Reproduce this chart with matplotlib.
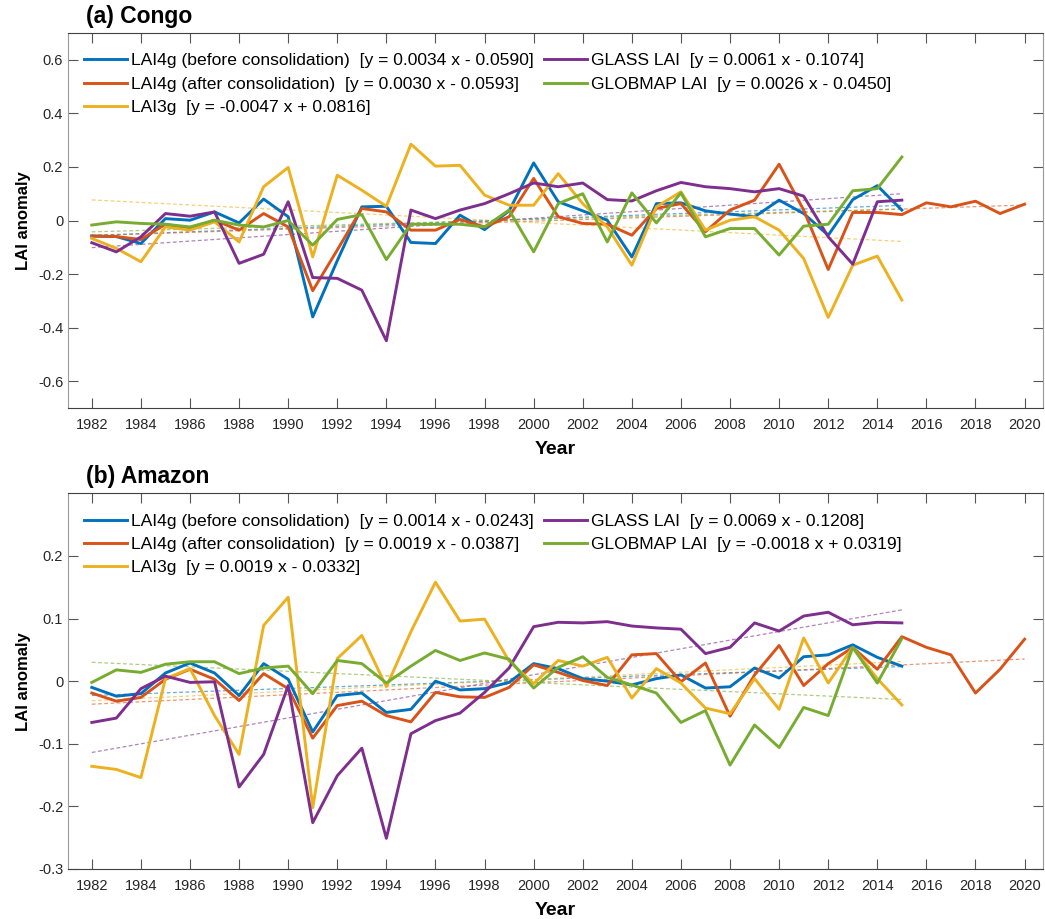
import numpy as np
import matplotlib as mpl
mpl.use('Agg')
import matplotlib.pyplot as plt

plt.rcParams['font.family'] = ['Liberation Sans', 'DejaVu Sans']
plt.rcParams['axes.unicode_minus'] = False

years = np.arange(1982, 2021)
years_short = np.arange(1982, 2016)

names = ['LAI4g (before consolidation)', 'LAI4g (after consolidation)', 'LAI3g',
         'GLASS LAI', 'GLOBMAP LAI']
colors = ['#0072BD', '#D95319', '#EDB120', '#7E2F8E', '#77AC30']

# ---- (a) Congo ----
congo_before = [-0.058, -0.060, -0.086, 0.007, 0.001, 0.032, -0.009, 0.080, 0.014, -0.360,
                -0.150, 0.051, 0.053, -0.082, -0.086, 0.020, -0.034, 0.036, 0.215, 0.070,
                0.036, 0.001, -0.136, 0.063, 0.066, 0.036, 0.024, 0.014, 0.076, 0.026,
                -0.055, 0.078, 0.130, 0.039]
congo_after = [-0.058, -0.060, -0.071, -0.014, -0.030, 0.001, -0.036, 0.026, -0.024, -0.262,
               -0.110, 0.045, 0.032, -0.036, -0.036, 0.004, -0.024, 0.014, 0.157, 0.014,
               -0.011, -0.014, -0.055, 0.045, 0.063, -0.042, 0.039, 0.076, 0.210, 0.039,
               -0.183, 0.030, 0.030, 0.022, 0.066, 0.051, 0.072, 0.026, 0.061]
congo_3g = [-0.067, -0.104, -0.154, -0.024, -0.036, -0.005, -0.080, 0.126, 0.198, -0.136,
            0.169, 0.113, 0.053, 0.285, 0.203, 0.206, 0.095, 0.057, 0.057, 0.175,
            0.063, -0.024, -0.167, 0.051, 0.107, -0.036, 0.001, 0.014, -0.036, -0.142,
            -0.362, -0.167, -0.133, -0.297]
congo_glass = [-0.083, -0.117, -0.061, 0.026, 0.016, 0.032, -0.160, -0.126, 0.070, -0.213,
               -0.216, -0.260, -0.449, 0.039, 0.007, 0.039, 0.063, 0.100, 0.140, 0.126,
               0.140, 0.078, 0.073, 0.111, 0.142, 0.126, 0.119, 0.107, 0.119, 0.091,
               -0.061, -0.163, 0.070, 0.076]
congo_globmap = [-0.017, -0.005, -0.011, -0.014, -0.024, 0.001, -0.017, -0.024, 0.000, -0.092,
                 0.004, 0.022, -0.146, -0.014, -0.014, -0.014, -0.024, 0.039, -0.117, 0.063,
                 0.100, -0.080, 0.103, -0.009, 0.103, -0.061, -0.030, -0.030, -0.129, -0.021,
                 -0.014, 0.111, 0.119, 0.237]
congo_slope = [0.0034, 0.0030, -0.0047, 0.0061, 0.0026]
congo_icpt = [-0.0590, -0.0593, 0.0816, -0.1074, -0.0450]

# ---- (b) Amazon ----
amaz_before = [-0.010, -0.024, -0.020, 0.013, 0.029, 0.013, -0.023, 0.028, 0.003, -0.081,
               -0.023, -0.019, -0.050, -0.045, 0.000, -0.014, -0.012, -0.002, 0.028, 0.020,
               0.004, 0.000, -0.006, 0.004, 0.010, -0.011, -0.009, 0.021, 0.005, 0.039,
               0.042, 0.058, 0.038, 0.024]
amaz_after = [-0.019, -0.032, -0.026, 0.003, 0.019, 0.003, -0.031, 0.012, -0.012, -0.091,
              -0.039, -0.032, -0.055, -0.065, -0.018, -0.025, -0.026, -0.010, 0.026, 0.014,
              0.001, -0.007, 0.042, 0.044, -0.001, 0.029, -0.056, 0.010, 0.057, -0.007,
              0.028, 0.054, 0.019, 0.071, 0.054, 0.042, -0.019, 0.019, 0.067]
amaz_3g = [-0.136, -0.141, -0.154, 0.004, 0.020, -0.055, -0.117, 0.089, 0.134, -0.202,
           0.036, 0.073, -0.009, 0.079, 0.158, 0.096, 0.099, 0.032, -0.004, 0.033,
           0.024, 0.038, -0.027, 0.020, -0.003, -0.043, -0.052, 0.004, -0.045, 0.069,
           -0.003, 0.054, 0.004, -0.038]
amaz_glass = [-0.066, -0.059, -0.012, 0.008, -0.002, -0.001, -0.169, -0.117, -0.007, -0.226,
              -0.151, -0.107, -0.251, -0.084, -0.063, -0.051, -0.018, 0.021, 0.087, 0.094,
              0.093, 0.095, 0.088, 0.085, 0.083, 0.044, 0.054, 0.093, 0.080, 0.104,
              0.110, 0.090, 0.094, 0.093]
amaz_globmap = [-0.002, 0.018, 0.014, 0.027, 0.031, 0.031, 0.012, 0.021, 0.024, -0.020,
                0.033, 0.028, -0.003, 0.024, 0.049, 0.033, 0.045, 0.035, -0.011, 0.022,
                0.039, 0.006, -0.006, -0.019, -0.066, -0.047, -0.134, -0.070, -0.106, -0.042,
                -0.055, 0.054, -0.003, 0.068]
amaz_slope = [0.0014, 0.0019, 0.0019, 0.0069, -0.0018]
amaz_icpt = [-0.0243, -0.0387, -0.0332, -0.1208, 0.0319]

xticks = np.arange(1982, 2021, 2)
yticks_a = [-0.6, -0.4, -0.2, 0, 0.2, 0.4, 0.6]
ytl_a = ['-0.6', '-0.4', '-0.2', '0', '0.2', '0.4', '0.6']
yticks_b = [-0.3, -0.2, -0.1, 0, 0.1, 0.2]
ytl_b = ['-0.3', '-0.2', '-0.1', '0', '0.1', '0.2']


def fmt(v):
    s = '%.4f' % abs(v)
    return ('- ' if v < 0 else '+ ') + s


def panel(ax, series, slopes, icpts, title, ylim, yt, ytl, title_y):
    lines = []
    for i, s in enumerate(series):
        xx = years if len(s) == len(years) else years_short
        ln, = ax.plot(xx, s, color=colors[i], lw=2.1, zorder=3)
        lines.append(ln)
        t = xx - 1981
        ax.plot(xx, slopes[i] * t + icpts[i], color=colors[i], lw=0.9,
                ls=(0, (3, 2)), alpha=0.6, zorder=2)
    labels = []
    for i in range(5):
        sl = ('%.4f' % slopes[i])
        labels.append('%s  [y = %s x %s]' % (names[i], sl, fmt(icpts[i])))
    ax.set_xlim(1981.03, 2020.75)
    ax.set_ylim(*ylim)
    ax.set_xticks(xticks)
    ax.set_yticks(yt)
    ax.set_yticklabels(ytl)
    ax.tick_params(direction='in', length=7, width=0.8, top=True, right=True,
                   labelsize=10.5, colors='#555555', labelcolor='#262626')
    ax.tick_params(axis='x', pad=7)
    for side in ['left', 'right']:
        ax.spines[side].set_color('#999999')
    for side in ['top', 'bottom']:
        ax.spines[side].set_color('#404040')
    ax.set_xlabel('Year', fontsize=14, fontweight='bold', labelpad=7)
    ax.set_ylabel('LAI anomaly', fontsize=12, fontweight='bold', labelpad=5)
    ax.legend(lines, labels, ncol=2, loc='upper left',
              bbox_to_anchor=(0.0165, 0.946), frameon=False, fontsize=12.6,
              handlelength=2.45, handletextpad=0.25, columnspacing=0.55,
              labelspacing=0.45, borderpad=0, borderaxespad=0)
    fig.text(86 / 1045, 1 - title_y / 919, title, fontsize=16.5, fontweight='bold',
             va='center', ha='left')


fig = plt.figure(figsize=(10.45, 9.19), dpi=100)
ax1 = fig.add_axes([68 / 1045, 1 - 408 / 919, 975 / 1045, 375 / 919])
ax2 = fig.add_axes([68 / 1045, 1 - 869 / 919, 975 / 1045, 375.7 / 919])

panel(ax1, [congo_before, congo_after, congo_3g, congo_glass, congo_globmap],
      congo_slope, congo_icpt, '(a) Congo', (-0.7, 0.7), yticks_a, ytl_a, 16.5)
panel(ax2, [amaz_before, amaz_after, amaz_3g, amaz_glass, amaz_globmap],
      amaz_slope, amaz_icpt, '(b) Amazon', (-0.3, 0.3), yticks_b, ytl_b, 477)

fig.savefig('out.png', dpi=100)
